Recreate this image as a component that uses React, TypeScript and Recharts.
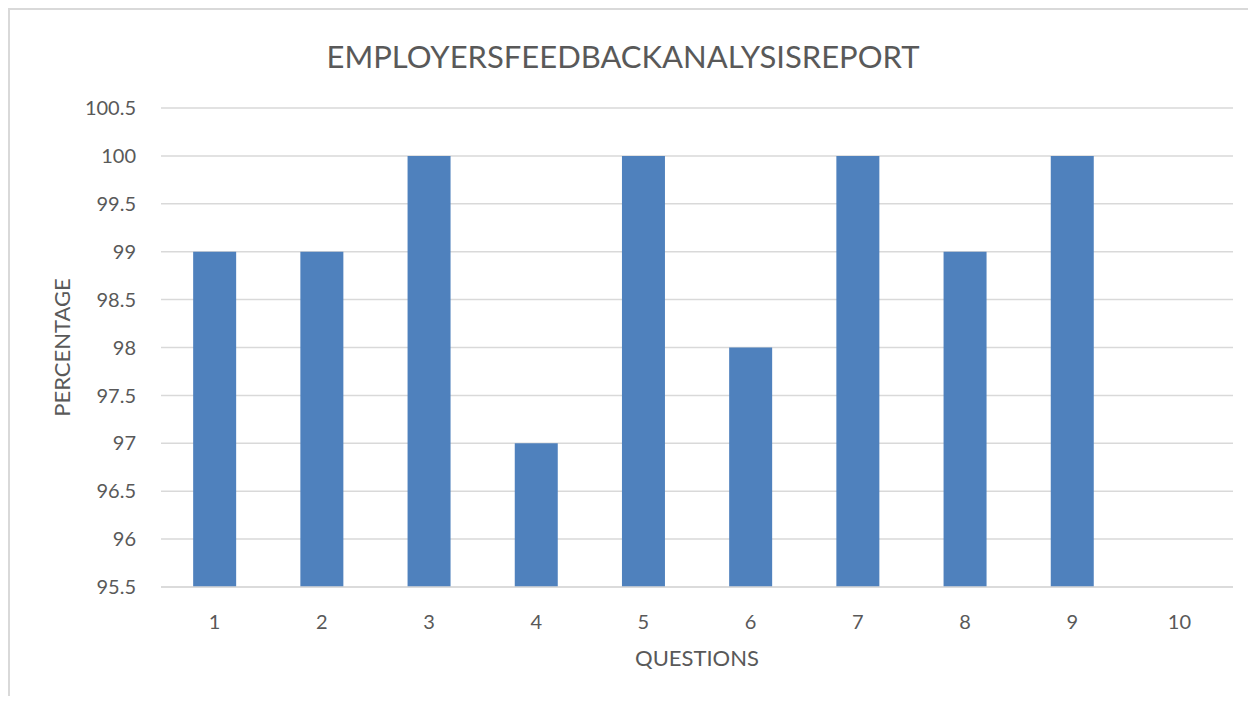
import { BarChart, Bar, XAxis, YAxis, CartesianGrid, Label } from 'recharts';

// question numbers and their percentage scores (question 10 has no bar)
const questions = ['1', '2', '3', '4', '5', '6', '7', '8', '9', '10'];
const percentages: (number | null)[] = [99, 99, 100, 97, 100, 98, 100, 99, 100, null];
const yTicks = [95.5, 96, 96.5, 97, 97.5, 98, 98.5, 99, 99.5, 100, 100.5];

const data = questions.map((q, i) => ({ question: q, percentage: percentages[i] }));

const FONT = 'Lato, "Open Sans", sans-serif';
const TEXT = '#595959';
const GRID = '#d9d9d9';

export default function App() {
  return (
    <div
      style={{
        position: 'relative',
        width: 1238,
        height: 694,
        marginBottom: -8,
        borderLeft: `2px solid ${GRID}`,
        borderTop: `2px solid ${GRID}`,
        fontFamily: FONT
      }}
    >
      <div
        style={{
          position: 'absolute',
          top: 27,
          left: 0,
          width: 1226,
          textAlign: 'center',
          fontSize: 31,
          color: TEXT
        }}
      >
        EMPLOYERSFEEDBACKANALYSISREPORT
      </div>
      <BarChart
        width={1238}
        height={684}
        data={data}
        margin={{ top: 98, right: 15, left: 0, bottom: 27 }}
        barCategoryGap="30%"
      >
        <CartesianGrid vertical={false} stroke={GRID} strokeWidth={1.5} />
        <XAxis
          dataKey="question"
          height={80}
          tickLine={false}
          tickSize={0}
          tickMargin={28}
          axisLine={{ stroke: GRID, strokeWidth: 1.5 }}
          tick={{ fontSize: 20, fill: TEXT, fontFamily: FONT }}
        >
          <Label
            value="QUESTIONS"
            position="insideBottom"
            offset={1}
            style={{ fontSize: 22, fill: TEXT, fontFamily: FONT }}
          />
        </XAxis>
        <YAxis
          width={151}
          domain={[95.5, 100.5]}
          ticks={yTicks}
          allowDataOverflow
          axisLine={false}
          tickLine={false}
          tickSize={0}
          tickMargin={25}
          tick={{ fontSize: 20, fill: TEXT, fontFamily: FONT }}
        >
          <Label
            value="PERCENTAGE"
            angle={-90}
            position="insideLeft"
            offset={52}
            style={{ fontSize: 22, fill: TEXT, fontFamily: FONT, textAnchor: 'middle' }}
          />
        </YAxis>
        <Bar dataKey="percentage" fill="#4f81bd" isAnimationActive={false} />
      </BarChart>
    </div>
  );
}
